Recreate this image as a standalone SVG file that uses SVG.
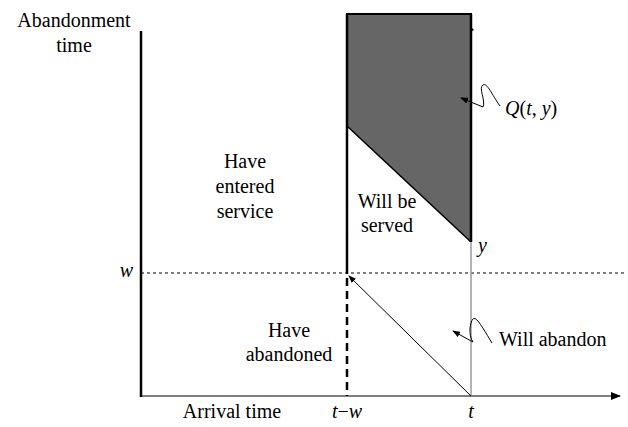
<svg xmlns="http://www.w3.org/2000/svg" width="628" height="427" viewBox="0 0 628 427">
<style>
text{font-size:20px;fill:#000}
.c{text-anchor:middle}
.i{font-style:italic}
.thin{stroke:#000;stroke-width:1;fill:none}
</style>
<defs>
<marker id="ah" markerWidth="10" markerHeight="8" refX="9" refY="4" orient="auto" markerUnits="userSpaceOnUse">
<path d="M0,0 L10,4 L0,8 Z" fill="#000"/>
</marker>
<marker id="sm" markerWidth="8" markerHeight="6" refX="7" refY="3" orient="auto" markerUnits="userSpaceOnUse">
<path d="M0,0 L8,3 L0,6 Z" fill="#000"/>
</marker>
</defs>
<rect width="628" height="427" fill="#fff"/>
<g id="region-Q">
<polygon points="347,14 471,14 471,242 347,126" fill="#666"/>
<line x1="346" y1="14" x2="472" y2="14" stroke="#000" stroke-width="2"/>
<line x1="471" y1="14" x2="471" y2="242" stroke="#000" stroke-width="2.5"/>
<line x1="347" y1="126" x2="471" y2="242" stroke="#000" stroke-width="1.5"/>
<path d="M472,28 l2,2 l-2,1 z" fill="#000"/>
</g>
<g id="axes">
<line x1="141" y1="31" x2="141" y2="397" stroke="#000" stroke-width="2.5"/>
<line x1="140" y1="396" x2="620" y2="396" stroke="#000" stroke-width="1.2" marker-end="url(#ah)"/>
<line x1="141" y1="273" x2="627" y2="273" stroke="#000" stroke-width="1.2" stroke-dasharray="3,3"/>
</g>
<g id="connectors">
<line x1="347" y1="14" x2="347" y2="274" stroke="#000" stroke-width="2.5"/>
<line x1="347" y1="278" x2="347" y2="396" stroke="#000" stroke-width="2.5" stroke-dasharray="8,5"/>
<line x1="471" y1="242" x2="471" y2="396" stroke="#999" stroke-width="1.5"/>
<line x1="471" y1="396" x2="349" y2="276" class="thin" marker-end="url(#sm)"/>
<path d="M483,107 C486,100 478,88 483,85 C487,82 492,95 500,106 M483,107 L461,98" class="thin" marker-end="url(#sm)"/>
<path d="M473,342 C468,335 470,322 473,319 C476,315 484,330 492,343 M473,342 L453,331" class="thin" marker-end="url(#sm)"/>
</g>
<g id="labels" font-family="'Liberation Serif', 'DejaVu Serif', serif">
<text class="c" x="74" y="27">Abandonment</text>
<text class="c" x="74" y="52">time</text>
<text class="c" x="245" y="168">Have</text>
<text class="c" x="245" y="193">entered</text>
<text class="c" x="245" y="218">service</text>
<text class="c" x="387" y="208">Will be</text>
<text class="c" x="387" y="232">served</text>
<text class="c" x="289" y="337">Have</text>
<text class="c" x="289" y="361">abandoned</text>
<text x="499" y="346">Will abandon</text>
<text x="505" y="115"><tspan class="i">Q</tspan>(<tspan class="i">t</tspan>, <tspan class="i">y</tspan>)</text>
<text class="i" x="478" y="252">y</text>
<text class="i" x="133" y="277" text-anchor="end">w</text>
<text class="c" x="232" y="418">Arrival time</text>
<text class="c" x="347" y="418"><tspan class="i">t</tspan>−<tspan class="i">w</tspan></text>
<text class="c i" x="471" y="418">t</text>
</g>
</svg>
